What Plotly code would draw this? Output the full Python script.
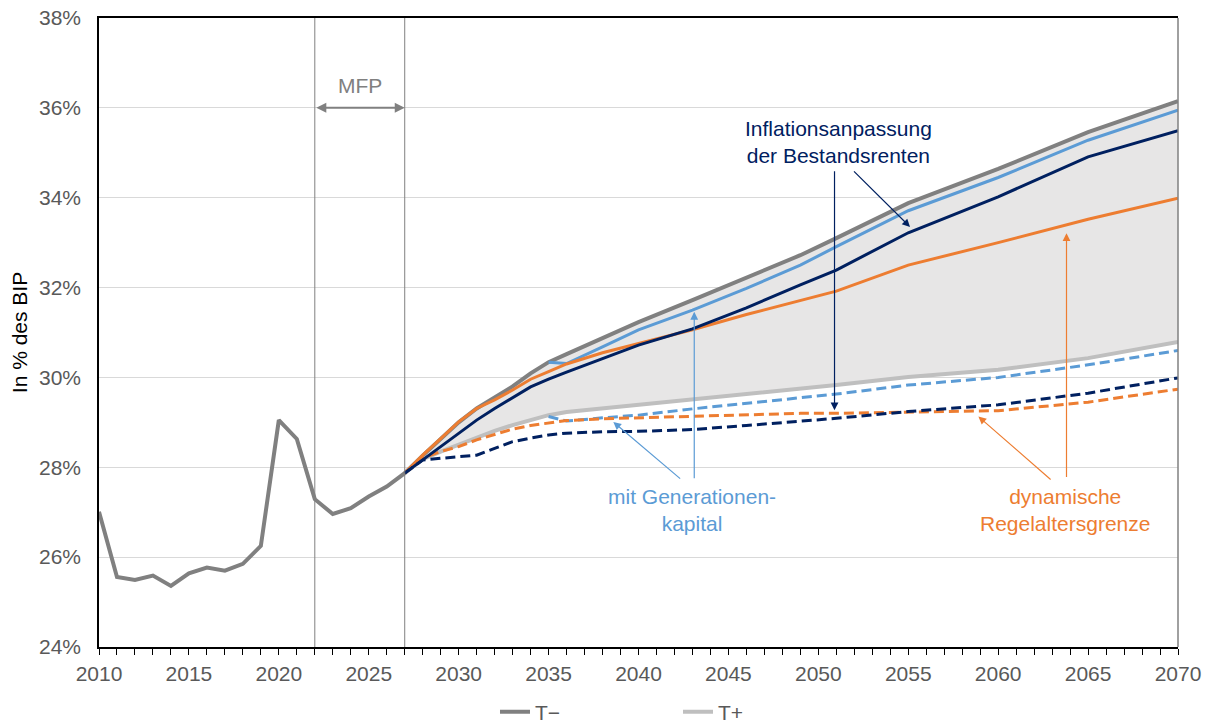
import plotly.graph_objects as go

# ---------------- data ----------------
hist_years = list(range(2010, 2028))
hist_tminus = [27.01, 25.56, 25.49, 25.59, 25.36, 25.64, 25.77, 25.70, 25.85, 26.25,
               29.05, 28.63, 27.29, 26.96, 27.09, 27.35, 27.57, 27.87]

proj_years = [2027, 2028, 2029, 2030, 2031, 2032, 2033, 2034, 2035, 2036,
              2038, 2040, 2043, 2046, 2049, 2051, 2055, 2060, 2065, 2070]
tminus_proj = [27.87, 28.26, 28.63, 29.00, 29.31, 29.55, 29.80, 30.09, 30.34, 30.52,
               30.88, 31.23, 31.72, 32.22, 32.72, 33.10, 33.88, 34.64, 35.46, 36.15]
tplus_proj = [27.87, 28.18, 28.35, 28.50, 28.67, 28.81, 28.94, 29.05, 29.16, 29.23,
              29.31, 29.38, 29.50, 29.63, 29.75, 29.83, 30.01, 30.17, 30.43, 30.79]
infl_tminus = [27.87, 28.16, 28.46, 28.76, 29.05, 29.31, 29.56, 29.79, 29.96, 30.12,
               30.42, 30.72, 31.08, 31.55, 32.06, 32.39, 33.22, 34.02, 34.91, 35.49]
infl_tplus = [27.87, 28.16, 28.20, 28.24, 28.27, 28.42, 28.57, 28.65, 28.72, 28.76,
              28.79, 28.80, 28.84, 28.93, 29.03, 29.09, 29.24, 29.39, 29.65, 29.99]
rag_tminus = [27.87, 28.27, 28.64, 29.01, 29.31, 29.50, 29.72, 29.96, 30.13, 30.30,
              30.55, 30.76, 31.06, 31.40, 31.72, 31.92, 32.50, 33.00, 33.52, 33.99]
rag_tplus = [27.87, 28.20, 28.35, 28.46, 28.61, 28.73, 28.85, 28.93, 28.99, 29.04,
             29.08, 29.10, 29.14, 29.17, 29.20, 29.20, 29.22, 29.26, 29.45, 29.74]
gk_years = [2035, 2036, 2038, 2040, 2043, 2046, 2049, 2051, 2055, 2060, 2065, 2070]
gk_tminus = [30.34, 30.31, 30.68, 31.06, 31.50, 31.98, 32.50, 32.91, 33.71, 34.45, 35.28, 35.95]
gk_tplus = [29.13, 29.03, 29.10, 29.16, 29.30, 29.43, 29.55, 29.63, 29.83, 30.00, 30.28, 30.60]

x_ticks = list(range(2010, 2071, 5))
y_ticks = list(range(24, 39, 2))
y_ticklabels = [f"{v}%" for v in y_ticks]
mfp_start, mfp_end = 2022, 2027

# ---------------- styles ----------------
FONT = "Liberation Sans, Arial, sans-serif"
DARKGRAY = "#808080"
LIGHTGRAY = "#bfbfbf"
FILL = "#e7e6e6"
NAVY = "#002060"
LBLUE = "#5b9bd5"
ORANGE = "#ed7d31"
TXT = "#595959"
DASH = "10px,5px"

fig = go.Figure()

# band between T- and T+
fig.add_trace(go.Scatter(x=proj_years, y=tminus_proj, mode="lines",
                         line=dict(width=0, color=FILL), showlegend=False, hoverinfo="skip"))
fig.add_trace(go.Scatter(x=proj_years, y=tplus_proj, mode="lines", fill="tonexty",
                         fillcolor=FILL, line=dict(width=0, color=FILL),
                         showlegend=False, hoverinfo="skip"))

# T- (history + projection)
fig.add_trace(go.Scatter(x=hist_years + proj_years[1:], y=hist_tminus + tminus_proj[1:],
                         mode="lines", name="T\u2212", line=dict(color=DARKGRAY, width=4)))
# T+
fig.add_trace(go.Scatter(x=proj_years, y=tplus_proj, mode="lines", name="T+",
                         line=dict(color=LIGHTGRAY, width=4)))

# variants
fig.add_trace(go.Scatter(x=gk_years, y=gk_tminus, mode="lines", showlegend=False,
                         line=dict(color=LBLUE, width=3)))
fig.add_trace(go.Scatter(x=gk_years, y=gk_tplus, mode="lines", showlegend=False,
                         line=dict(color=LBLUE, width=3, dash=DASH)))
fig.add_trace(go.Scatter(x=proj_years, y=rag_tminus, mode="lines", showlegend=False,
                         line=dict(color=ORANGE, width=3)))
fig.add_trace(go.Scatter(x=proj_years, y=rag_tplus, mode="lines", showlegend=False,
                         line=dict(color=ORANGE, width=3, dash=DASH)))
fig.add_trace(go.Scatter(x=proj_years, y=infl_tminus, mode="lines", showlegend=False,
                         line=dict(color=NAVY, width=3)))
fig.add_trace(go.Scatter(x=proj_years, y=infl_tplus, mode="lines", showlegend=False,
                         line=dict(color=NAVY, width=3, dash=DASH)))

# vertical MFP lines and right border
shapes = []
for xv in (mfp_start, mfp_end):
    shapes.append(dict(type="line", xref="x", yref="paper", x0=xv, x1=xv, y0=0, y1=1,
                       line=dict(color=DARKGRAY, width=1)))
shapes.append(dict(type="line", xref="paper", yref="paper", x0=1, x1=1, y0=0, y1=1,
                   line=dict(color=DARKGRAY, width=1.5)))

annotations = []
# MFP
annotations.append(dict(x=(mfp_start + mfp_end) / 2, y=36.5, text="MFP", showarrow=False,
                        font=dict(family=FONT, size=21, color=DARKGRAY)))
annotations.append(dict(x=mfp_end, y=36, ax=mfp_start, ay=36, xref="x", yref="y",
                        axref="x", ayref="y", text="", showarrow=True, arrowhead=2,
                        arrowside="end+start", arrowsize=1, arrowwidth=2,
                        arrowcolor=DARKGRAY, standoff=0, startstandoff=0))

# Inflationsanpassung
annotations.append(dict(x=2051.1, y=35.23, text="Inflationsanpassung<br>der Bestandsrenten",
                        showarrow=False, font=dict(family=FONT, size=21, color=NAVY)))
for (tx, ty, sx, sy) in [(2050.9, 29.27, 2050.9, 34.62), (2055.1, 33.35, 2051.9, 34.62)]:
    annotations.append(dict(x=tx, y=ty, ax=sx, ay=sy, xref="x", yref="y", axref="x",
                            ayref="y", text="", showarrow=True, arrowhead=2, arrowsize=1.3,
                            arrowwidth=1.2, arrowcolor=NAVY, standoff=0))

# Generationenkapital
annotations.append(dict(x=2043.0, y=27.05, text="mit Generationen-<br>kapital",
                        showarrow=False, font=dict(family=FONT, size=21, color=LBLUE)))
for (tx, ty, sx, sy) in [(2043.1, 31.46, 2043.1, 27.72), (2038.6, 29.01, 2042.4, 27.72)]:
    annotations.append(dict(x=tx, y=ty, ax=sx, ay=sy, xref="x", yref="y", axref="x",
                            ayref="y", text="", showarrow=True, arrowhead=2, arrowsize=1.3,
                            arrowwidth=1.2, arrowcolor=LBLUE, standoff=0))

# dynamische Regelaltersgrenze
annotations.append(dict(x=2063.7, y=27.05, text="dynamische<br>Regelaltersgrenze",
                        showarrow=False, font=dict(family=FONT, size=21, color=ORANGE)))
for (tx, ty, sx, sy) in [(2063.8, 33.21, 2063.8, 27.75), (2058.9, 29.13, 2063.0, 27.70)]:
    annotations.append(dict(x=tx, y=ty, ax=sx, ay=sy, xref="x", yref="y", axref="x",
                            ayref="y", text="", showarrow=True, arrowhead=2, arrowsize=1.3,
                            arrowwidth=1.2, arrowcolor=ORANGE, standoff=0))

fig.update_layout(
    width=1212, height=722,
    margin=dict(l=91, r=42, t=10, b=83, autoexpand=False),
    paper_bgcolor="white", plot_bgcolor="white",
    font=dict(family=FONT, size=21, color=TXT),
    shapes=shapes, annotations=annotations,
    showlegend=True,
    legend=dict(orientation="h", x=0.367, y=-0.071, xanchor="left", yanchor="top",
                traceorder="normal",
                entrywidth=138, entrywidthmode="pixels",
                font=dict(family=FONT, size=21, color=TXT), bgcolor="rgba(0,0,0,0)"),
)

fig.update_xaxes(
    range=[2010, 2070], tickvals=x_ticks, ticktext=[str(v) for v in x_ticks],
    ticks="outside", ticklen=6, tickcolor="black", tickwidth=1,
    minor=dict(dtick=1, tick0=2010, ticks="outside", ticklen=6, tickcolor="black", tickwidth=1),
    showgrid=False, zeroline=False, showline=True, linecolor="black", linewidth=1.5,
    mirror=True, automargin=False, ticklabeloverflow="allow",
    tickfont=dict(family=FONT, size=21, color=TXT), ticklabelstandoff=1,
)
fig.update_yaxes(
    range=[24, 38], tickvals=y_ticks, ticktext=y_ticklabels,
    ticks="", showgrid=True, gridcolor="#d9d9d9", gridwidth=1, zeroline=False,
    showline=True, linecolor="black", linewidth=1.5, automargin=False,
    ticklabeloverflow="allow",
    tickfont=dict(family=FONT, size=21, color=TXT), ticklabelstandoff=12,
    title=dict(text="In % des BIP", font=dict(family=FONT, size=21, color="black"), standoff=8),
)

fig.write_html("out.html")
